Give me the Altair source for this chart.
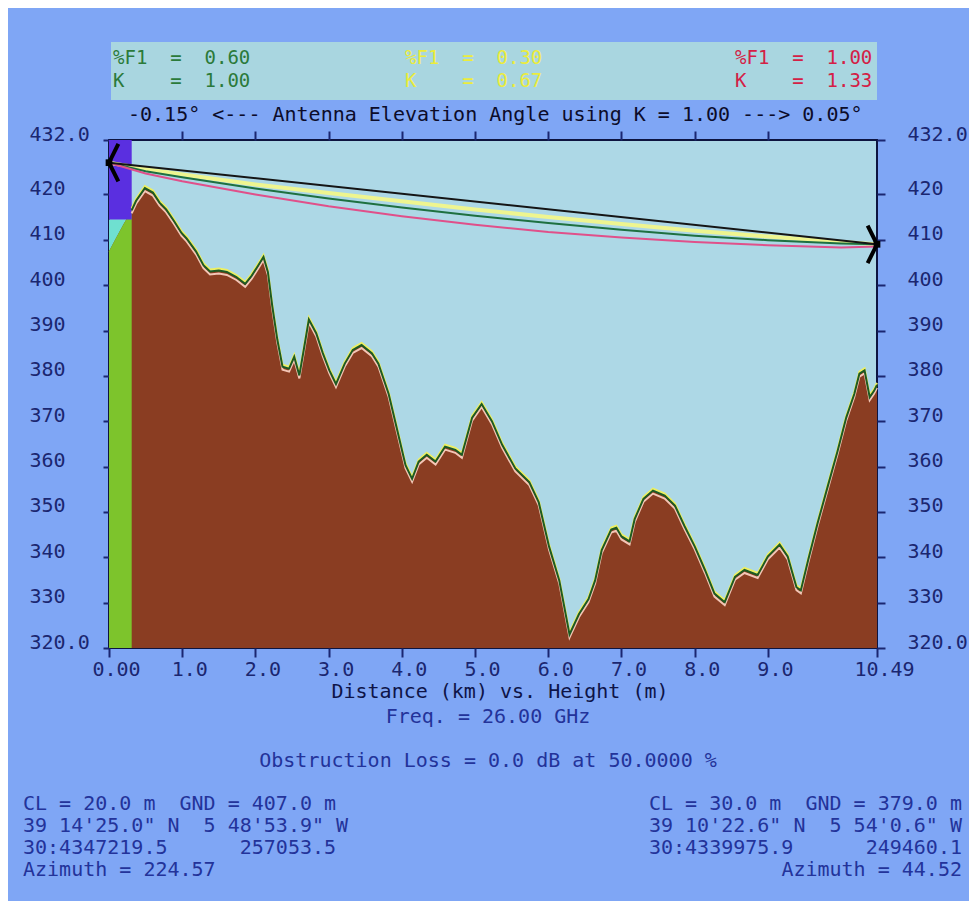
import re
import altair as alt
import pandas as pd

# ---------------- data ----------------
dist_km = [0.0, 0.1, 0.2, 0.31, 0.37, 0.49, 0.60, 0.69, 0.78, 0.89, 0.99, 1.06, 1.19, 1.29, 1.38,
           1.50, 1.61, 1.74, 1.86, 1.95, 2.04, 2.11, 2.17, 2.23, 2.30, 2.37, 2.46, 2.53, 2.60,
           2.66, 2.73, 2.83, 2.92, 3.01, 3.10, 3.22, 3.33, 3.45, 3.59, 3.68, 3.82, 3.93, 4.05,
           4.14, 4.23, 4.34, 4.46, 4.59, 4.73, 4.82, 4.96, 5.09, 5.23, 5.37, 5.55, 5.74, 5.87,
           6.01, 6.15, 6.29, 6.42, 6.55, 6.64, 6.73, 6.86, 6.93, 7.00, 7.11, 7.18, 7.30, 7.43,
           7.59, 7.73, 7.86, 8.00, 8.14, 8.27, 8.41, 8.55, 8.68, 8.86, 9.00, 9.16, 9.27, 9.39,
           9.45, 9.55, 9.68, 9.82, 9.95, 10.07, 10.18, 10.25, 10.32, 10.39, 10.45, 10.49]
height_m = [407.5, 410.5, 413.5, 416.5, 418.6, 421.4, 420.4, 418.2, 416.7, 414.1, 411.5, 410.3, 407.4,
            404.4, 403.0, 403.2, 402.9, 401.8, 400.3, 402.1, 404.4, 406.2, 402.9, 395.4, 387.9,
            382.0, 381.6, 384.2, 380.1, 385.7, 392.4, 389.4, 385.0, 381.2, 378.2, 382.7, 385.7,
            386.8, 385.0, 382.7, 376.0, 368.5, 360.3, 357.3, 361.1, 362.6, 361.1, 364.4, 363.7,
            362.6, 370.8, 373.8, 370.0, 364.8, 359.6, 356.6, 352.1, 342.4, 334.9, 323.0, 327.5,
            330.8, 334.9, 341.6, 346.1, 346.5, 344.6, 343.5, 348.4, 352.9, 354.7, 353.6, 351.4,
            346.9, 342.4, 337.2, 332.0, 330.1, 335.7, 337.2, 336.1, 340.2, 342.8, 340.2, 333.4,
            332.7, 339.4, 347.6, 355.8, 363.3, 370.8, 376.0, 380.5, 381.2, 375.3, 376.7, 378.0]

# radio path lines
los_d = [0.0, 10.49]
los_h = [427.0, 409.0]
ray_d = [0.0, 0.5, 1.0, 2.0, 3.0, 4.0, 5.0, 6.0, 7.0, 8.0, 9.0, 10.0, 10.49]
ray_k100 = [427.0, 425.1, 423.8, 421.3, 419.1, 417.1, 415.3, 413.7, 412.2, 410.9, 409.9, 409.2, 409.0]
ray_k067 = [427.0, 425.6, 424.4, 422.2, 420.3, 418.5, 416.7, 415.0, 413.5, 412.0, 410.7, 409.5, 409.0]
ray_k133 = [427.0, 424.6, 422.9, 420.0, 417.4, 415.2, 413.3, 411.7, 410.5, 409.5, 408.8, 408.3, 408.5]

# antenna column at the left end
col_d = [0.0, 0.31]
col_low = [407.0, 414.5]
col_high = [414.5, 432.0]

x_ticks = [0, 1, 2, 3, 4, 5, 6, 7, 8, 9, 10.49]
x_top_ticks = [1, 2, 3, 4, 5, 6, 7, 8, 9]
y_ticks = [320, 330, 340, 350, 360, 370, 380, 390, 400, 410, 420, 432]

legend_left = ["%F1  =  0.60", "K    =  1.00"]
legend_mid = ["%F1  =  0.30", "K    =  0.67"]
legend_right = ["%F1  =  1.00", "K    =  1.33"]
angle_title = "-0.15° <--- Antenna Elevation Angle using K = 1.00 ---> 0.05°"
x_title = "Distance (km) vs. Height (m)"
freq_text = "Freq. = 26.00 GHz"
loss_text = "Obstruction Loss = 0.0 dB at 50.0000 %"
site_left = ["CL = 20.0 m  GND = 407.0 m",
             "39 14'25.0\" N  5 48'53.9\" W",
             "30:4347219.5      257053.5",
             "Azimuth = 224.57"]
site_right = ["CL = 30.0 m  GND = 379.0 m",
              "39 10'22.6\" N  5 54'0.6\" W",
              "30:4339975.9      249460.1",
              "Azimuth = 44.52"]

# ---------------- styling ----------------
FONT = "DejaVu Sans Mono"
FS = 20
NAVY = "#1B2670"
BLUE_TXT = "#23339A"
W, H = 768, 508

terrain = pd.DataFrame({"d": dist_km, "h": height_m})
one = pd.DataFrame({"k": [0]})

xs = alt.Scale(domain=[0, 10.49], nice=False, zero=False)
ys = alt.Scale(domain=[320, 432], nice=False, zero=False)

ax_bottom = alt.Axis(orient="bottom", values=x_ticks, tickSize=9, tickWidth=2, tickColor=NAVY,
                     domain=False, grid=False, title=None, labelFont=FONT, labelFontSize=FS,
                     labelColor=NAVY, labelPadding=2, labelOffset=7, labelBaseline="top",
                     labelOverlap=False, labelFlush=False,
                     labelExpr="datum.value == 0 ? '0.00' : (datum.value > 10 ? '10.49' : format(datum.value, '.1f'))")
ax_top = alt.Axis(orient="top", values=x_top_ticks, tickSize=9, tickWidth=2, tickColor=NAVY,
                  domain=False, grid=False, labels=False, title=None)
ylab = "(datum.value == 432 || datum.value == 320) ? format(datum.value, '.1f') : format(datum.value, 'd')"
ax_left = alt.Axis(orient="left", values=y_ticks, tickSize=6, tickWidth=2, tickColor=NAVY,
                   domain=False, grid=False, title=None, labelFont=FONT, labelFontSize=FS,
                   labelColor=NAVY, labelAlign="left", labelPadding=74, labelBaseline="alphabetic",
                   labelOverlap=False, labelFlush=False, labelExpr=ylab)
ax_right = alt.Axis(orient="right", values=y_ticks, tickSize=8, tickWidth=2, tickColor=NAVY,
                    domain=False, grid=False, title=None, labelFont=FONT, labelFontSize=FS,
                    labelColor=NAVY, labelAlign="left", labelPadding=22, labelBaseline="alphabetic",
                    labelOverlap=False, labelFlush=False, labelExpr=ylab)


def X(f, axis=None):
    return alt.X(f, type="quantitative", scale=xs, axis=axis)


def Y(f, axis=None):
    return alt.Y(f, type="quantitative", scale=ys, axis=axis)


layers = []

# antenna column bands
col_df = pd.DataFrame({"d0": [col_d[0]], "d1": [col_d[1]], "lo1": [col_low[0]], "hi1": [col_low[1]],
                       "lo2": [col_high[0]], "hi2": [col_high[1]]})
layers.append(alt.Chart(col_df).mark_rect(color="#6FE0D0").encode(
    x=X("d0"), x2="d1", y=Y("lo1"), y2="hi1"))

# terrain
layers.append(alt.Chart(terrain).mark_area(color="#8A3D22", opacity=1).encode(
    x=X("d", ax_bottom), y=Y("h", ax_left), y2=alt.datum(320)))
layers.append(alt.Chart(terrain).transform_filter("datum.d <= 0.31").mark_area(
    color="#7DC42C", opacity=1).encode(x=X("d"), y=Y("h"), y2=alt.datum(320)))
layers.append(alt.Chart(col_df).mark_rect(color="#5A2FE0").encode(
    x=X("d0"), x2="d1", y=Y("lo2"), y2="hi2"))

# terrain outline (three K curves)
layers.append(alt.Chart(terrain).transform_filter("datum.d >= 0.31").mark_line(
    color="#F3C6B6", strokeWidth=2, yOffset=3).encode(x=X("d"), y=Y("h")))
layers.append(alt.Chart(terrain).transform_filter("datum.d >= 0.31").mark_line(
    color="#EEF060", strokeWidth=2, yOffset=-2).encode(x=X("d"), y=Y("h")))
layers.append(alt.Chart(terrain).transform_filter("datum.d >= 0.31").mark_line(
    color="#1E5A22", strokeWidth=2).encode(x=X("d", ax_top), y=Y("h", ax_right)))

# rays
rays = pd.DataFrame({"d": ray_d, "k100": ray_k100, "k067": ray_k067, "k133": ray_k133})
layers.append(alt.Chart(rays).mark_line(color="#EEF590", strokeWidth=4).encode(x=X("d"), y=Y("k067")))
layers.append(alt.Chart(rays).mark_line(color="#1E7040", strokeWidth=2).encode(x=X("d"), y=Y("k100")))
layers.append(alt.Chart(rays).mark_line(color="#E0508A", strokeWidth=2).encode(x=X("d"), y=Y("k133")))
los = pd.DataFrame({"d": los_d, "h": los_h})
layers.append(alt.Chart(los).mark_line(color="#151515", strokeWidth=2).encode(x=X("d"), y=Y("h")))

# end arrows
los_l = los.iloc[[0]]
los_r = los.iloc[[1]]
layers.append(alt.Chart(los_l).mark_point(shape="M0.5,-1L0,0L0.5,1", size=1400, filled=False,
                                          stroke="#000000", strokeWidth=4, opacity=1).encode(
    x=X("d"), y=Y("h")))
layers.append(alt.Chart(los_r).mark_point(shape="M-0.5,-1L0,0L-0.5,1", size=1400, filled=False,
                                          stroke="#000000", strokeWidth=4, opacity=1).encode(
    x=X("d"), y=Y("h")))
layers.append(alt.Chart(los).mark_square(size=45, color="#000000", opacity=1).encode(
    x=X("d"), y=Y("h")))

# legend box
layers.append(alt.Chart(one).mark_rect(color="#A9D6E0").encode(
    x=alt.value(2), x2=alt.value(768), y=alt.value(-98), y2=alt.value(-40)))


def keep_spaces(s):
    # SVG collapses runs of spaces; keep the monospace layout with no-break spaces
    return re.sub(r" {2,}", lambda m: "\u00a0" * len(m.group(0)), s)


def txt(s, x, y, color, align="left", size=FS):
    return alt.Chart(one).mark_text(font=FONT, fontSize=size, align=align, baseline="middle",
                                    color=color).encode(x=alt.value(x), y=alt.value(y),
                                                        text=alt.value(keep_spaces(s)))


LEG_FS = 19
for i, s in enumerate(legend_left):
    layers.append(txt(s, 4, -82 + 23 * i, "#2B7A3A", size=LEG_FS))
for i, s in enumerate(legend_mid):
    layers.append(txt(s, 296, -82 + 23 * i, "#ECEC3C", size=LEG_FS))
for i, s in enumerate(legend_right):
    layers.append(txt(s, 626, -82 + 23 * i, "#D42045", size=LEG_FS))
layers.append(txt(angle_title, 19, -25, "#0C0C2A"))
layers.append(txt(x_title, 391, 552, "#0E1448", "center"))
layers.append(txt(freq_text, 379, 577, BLUE_TXT, "center"))
layers.append(txt(loss_text, 379, 621, BLUE_TXT, "center"))
for i, s in enumerate(site_left):
    layers.append(txt(s, -86, 664 + 22 * i, BLUE_TXT))
for i, s in enumerate(site_right):
    layers.append(txt(s, 853, 664 + 22 * i, BLUE_TXT, "right"))

chart = alt.layer(*layers).resolve_axis(x="independent", y="independent").properties(
    width=W, height=H,
    padding={"left": 101, "top": 132, "right": 92, "bottom": 253},
    autosize=alt.AutoSizeParams(type="none"),
    background="#7FA6F5",
).configure_view(fill="#ADD8E6", stroke="#0D1440", strokeWidth=2)

chart.save("out.html", embed_options={"renderer": "svg", "actions": False})
